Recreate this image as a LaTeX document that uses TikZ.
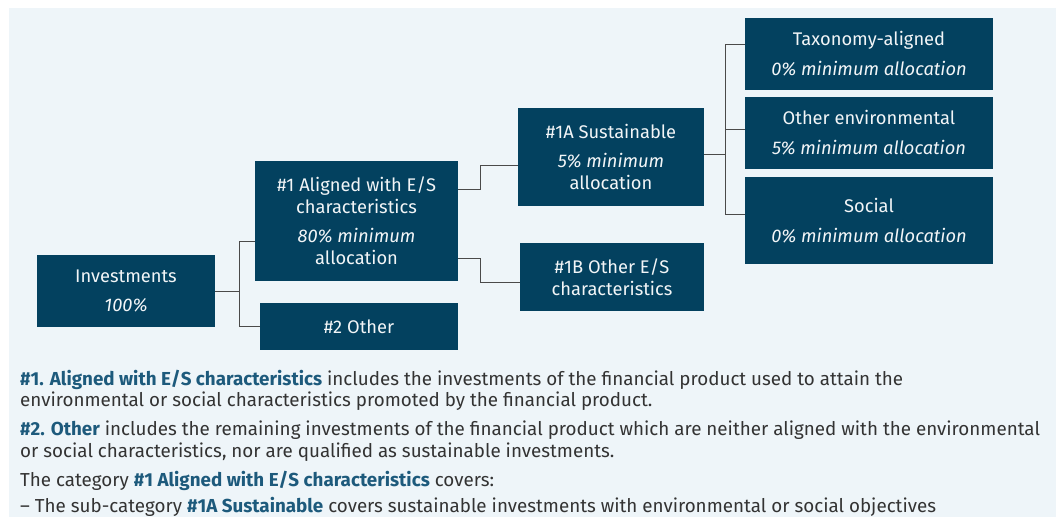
\documentclass[tikz,border=0pt]{standalone}
\usepackage{fontspec}
\setmainfont{Fira Sans}
\usetikzlibrary{calc}

\definecolor{boxblue}{HTML}{03415F}
\definecolor{panelblue}{HTML}{EEF5F9}
\definecolor{linegray}{HTML}{4A4A4A}
\definecolor{capblue}{HTML}{1D5A7C}
\definecolor{boxtext}{HTML}{F2F5F7}
\definecolor{captext}{HTML}{333333}

\newcommand{\hilite}[1]{\textcolor{capblue}{\bfseries #1}}

\begin{document}
\begin{tikzpicture}[x=1pt,y=-1pt,
    box/.style={fill=boxblue, text=boxtext, align=center, inner sep=0pt,
        font=\fontsize{18.3}{22}\selectfont},
    link/.style={draw=linegray, line width=1pt},
    capline/.style={anchor=base west, inner sep=0pt, text=captext,
        font=\fontsize{18.8}{21}\selectfont}]

    % Page and background panel
    \useasboundingbox (0,0) rectangle (1056,517);
    \fill[panelblue] (9,8) rectangle (1056,517);

    % Boxes of the allocation tree
    \node[box, minimum width=178pt, minimum height=72pt] (inv) at (126,291)
        {Investments\\[7pt]\itshape 100\%};
    \node[box, minimum width=203pt, minimum height=120pt] (al) at (356.5,221)
        {\#1 Aligned with E/S\\characteristics\\[7pt]\itshape 80\% minimum\\allocation};
    \node[box, minimum width=198pt, minimum height=47pt] (oth) at (359,326.5)
        {\#2 Other};
    \node[box, minimum width=186pt, minimum height=98pt] (sus) at (611,157)
        {\#1A Sustainable\\[7pt]\itshape 5\% minimum\\allocation};
    \node[box, minimum width=184pt, minimum height=68pt] (oes) at (612,277)
        {\#1B Other E/S\\characteristics};
    \node[box, minimum width=248pt, minimum height=72pt] (tax) at (869,54)
        {Taxonomy-aligned\\[8pt]\itshape 0\% minimum allocation};
    \node[box, minimum width=248pt, minimum height=72pt] (env) at (869,133)
        {Other environmental\\[8pt]\itshape 5\% minimum allocation};
    \node[box, minimum width=248pt, minimum height=87pt] (soc) at (869,220.5)
        {Social\\[8pt]\itshape 0\% minimum allocation};

    % Connectors
    \draw[link] (inv.east) -- ++(24,0) coordinate (j1) |- ([yshift=-20pt]al.west);
    \draw[link] (j1) |- (oth.west);
    \draw[link] ([yshift=32pt]al.east) -- ++(22,0) |- ([yshift=-8pt]sus.west);
    \draw[link] ([yshift=-37pt]al.east) -- ++(22,0) |- ([yshift=-5pt]oes.west);
    \draw[link] ([yshift=3pt]sus.east) -- ++(21,0) coordinate (j2) |- ([yshift=10pt]tax.west);
    \draw[link] (j2) |- ([yshift=4pt]env.west);
    \draw[link] (j2) |- ([yshift=6.5pt]soc.west);

    % Explanatory text
    \node[capline] (c1) at (20,385) {\hilite{\#1. Aligned with E/S characteristics} includes the investments of the financial product used to attain the};
    \node[capline] (c2) at (20,406) {environmental or social characteristics promoted by the financial product.};
    \node[capline] (c3) at (20,435) {\hilite{\#2. Other} includes the remaining investments of the financial product which are neither aligned with the environmental};
    \node[capline] (c4) at (20,457) {or social characteristics, nor are qualified as sustainable investments.};
    \node[capline] (c5) at (20,486.5) {The category \hilite{\#1 Aligned with E/S characteristics} covers:};
    \node[capline] (c6) at (20,512) {-- The sub-category \hilite{\#1A Sustainable} covers sustainable investments with environmental or social objectives};
\end{tikzpicture}
\end{document}
